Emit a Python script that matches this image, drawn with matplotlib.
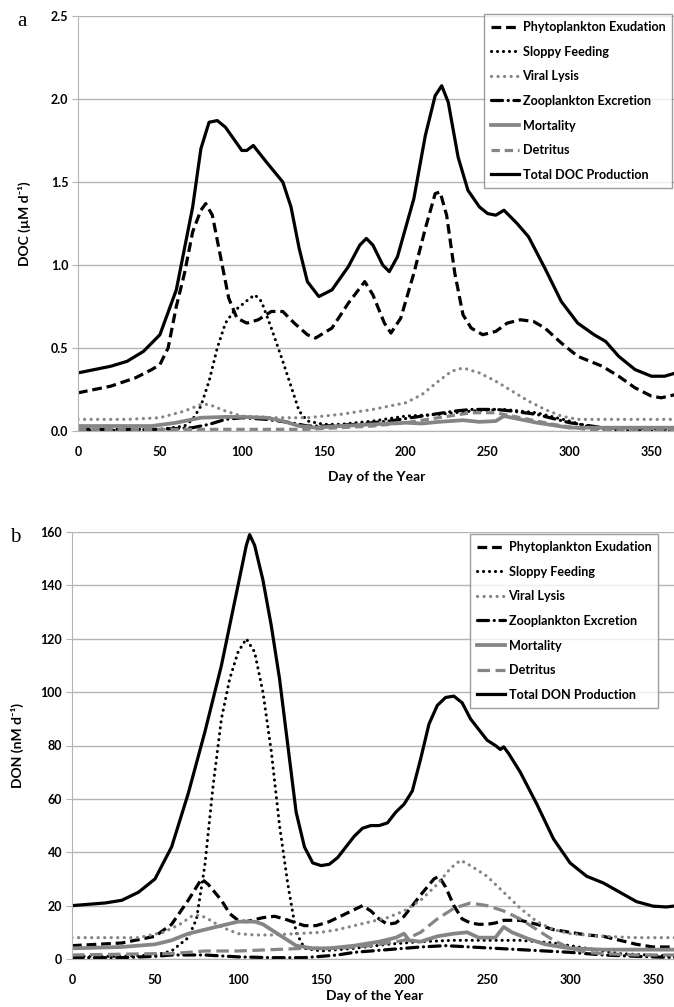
import numpy as np
import matplotlib
matplotlib.use("Agg")
import matplotlib.pyplot as plt

plt.rcParams['font.family'] = ['Lato', 'DejaVu Sans']
plt.rcParams['font.weight'] = 'bold'
plt.rcParams['lines.scale_dashes'] = False

#####################################
# panel a : DOC production (uM d-1)
doc_total_day = [0, 20, 30, 40, 50, 60, 70, 75, 80, 85, 90, 100, 103, 107, 115, 125, 130, 135, 140, 147,
                 155, 165, 172, 176, 180, 186, 190, 195, 205, 212, 218, 222, 226, 232, 238, 245, 250, 255,
                 260, 268, 275, 285, 295, 305, 315, 322, 330, 340, 350, 358, 365]
doc_total = [0.35, 0.39, 0.42, 0.48, 0.58, 0.85, 1.35, 1.70, 1.86, 1.87, 1.83, 1.69, 1.69, 1.72, 1.62, 1.50,
             1.35, 1.10, 0.90, 0.81, 0.85, 0.99, 1.12, 1.16, 1.12, 1.00, 0.96, 1.05, 1.40, 1.78, 2.02, 2.08,
             1.98, 1.65, 1.45, 1.35, 1.31, 1.30, 1.33, 1.25, 1.17, 0.98, 0.78, 0.65, 0.58, 0.54, 0.45, 0.37,
             0.33, 0.33, 0.35]

doc_phyto_day = [0, 20, 35, 45, 50, 55, 60, 65, 70, 75, 78, 82, 87, 92, 97, 103, 110, 118, 125, 132, 140,
                 145, 155, 165, 175, 180, 187, 191, 197, 205, 212, 218, 221, 225, 230, 235, 240, 247, 255,
                 262, 270, 278, 285, 295, 305, 315, 320, 330, 340, 350, 356, 365]
doc_phyto = [0.23, 0.27, 0.32, 0.37, 0.40, 0.50, 0.75, 0.95, 1.20, 1.33, 1.37, 1.30, 1.05, 0.80, 0.68, 0.65,
             0.67, 0.72, 0.72, 0.65, 0.58, 0.56, 0.62, 0.77, 0.90, 0.82, 0.65, 0.59, 0.68, 0.95, 1.22, 1.43,
             1.44, 1.30, 0.95, 0.70, 0.62, 0.58, 0.60, 0.65, 0.67, 0.66, 0.62, 0.53, 0.45, 0.41, 0.39, 0.33,
             0.26, 0.21, 0.20, 0.22]

doc_sloppy_day = [0, 50, 65, 70, 75, 80, 85, 90, 95, 100, 105, 108, 112, 118, 125, 130, 135, 140, 150, 160,
                  170, 180, 200, 220, 240, 260, 280, 300, 310, 320, 340, 365]
doc_sloppy = [0.0, 0.01, 0.03, 0.07, 0.15, 0.30, 0.50, 0.65, 0.72, 0.76, 0.80, 0.82, 0.78, 0.62, 0.42, 0.27,
              0.12, 0.06, 0.04, 0.04, 0.05, 0.06, 0.09, 0.10, 0.12, 0.13, 0.11, 0.06, 0.03, 0.01, 0.0, 0.0]

doc_viral_day = [0, 30, 50, 65, 75, 80, 90, 100, 120, 140, 160, 180, 200, 210, 220, 228, 235, 245, 255, 265,
                 275, 285, 295, 305, 320, 365]
doc_viral = [0.07, 0.07, 0.08, 0.12, 0.16, 0.16, 0.12, 0.09, 0.08, 0.08, 0.10, 0.13, 0.17, 0.22, 0.30, 0.36,
             0.38, 0.35, 0.30, 0.24, 0.18, 0.13, 0.09, 0.07, 0.07, 0.07]

doc_zoo_day = [0, 50, 70, 80, 90, 100, 115, 130, 140, 150, 170, 190, 210, 230, 240, 255, 265, 280, 300, 320, 365]
doc_zoo = [0.01, 0.01, 0.02, 0.04, 0.07, 0.08, 0.07, 0.05, 0.03, 0.03, 0.04, 0.06, 0.09, 0.12, 0.13, 0.13,
           0.12, 0.10, 0.05, 0.02, 0.01]

doc_mort_day = [0, 45, 60, 75, 90, 100, 115, 125, 135, 145, 160, 180, 200, 210, 220, 235, 245, 255, 260, 265,
                280, 300, 320, 365]
doc_mort = [0.03, 0.03, 0.05, 0.08, 0.085, 0.085, 0.08, 0.06, 0.03, 0.02, 0.03, 0.04, 0.05, 0.045, 0.055,
            0.065, 0.055, 0.06, 0.09, 0.08, 0.05, 0.02, 0.02, 0.02]

doc_detr_day = [0, 60, 100, 140, 180, 200, 220, 240, 255, 270, 290, 310, 365]
doc_detr = [0.01, 0.01, 0.01, 0.01, 0.03, 0.05, 0.08, 0.11, 0.11, 0.08, 0.04, 0.01, 0.01]

#####################################
# panel b : DON production (nM d-1)
don_total_day = [0, 20, 30, 40, 50, 60, 70, 80, 90, 100, 105, 107, 110, 115, 120, 125, 130, 135, 140, 145,
                 150, 155, 160, 165, 170, 175, 180, 185, 190, 195, 200, 205, 210, 215, 220, 225, 230, 235,
                 240, 245, 250, 255, 258, 260, 263, 270, 280, 290, 300, 310, 320, 330, 340, 350, 358, 365]
don_total = [20, 21, 22, 25, 30, 42, 62, 85, 110, 140, 155, 159, 155, 142, 125, 105, 80, 55, 42, 36, 35,
             35.5, 38, 42, 46, 49, 50, 50, 51, 55, 58, 63, 75, 88, 95, 98, 98.5, 96, 90, 86, 82, 80, 78.5,
             79.5, 77, 70, 58, 45, 36, 31, 28.5, 25, 21.5, 19.8, 19.5, 20]

don_phyto_day = [0, 30, 50, 60, 70, 75, 78, 82, 90, 95, 100, 105, 115, 122, 128, 135, 140, 147, 155, 165,
                 175, 180, 185, 190, 195, 200, 210, 218, 221, 225, 230, 235, 240, 245, 250, 255, 260, 270,
                 280, 290, 300, 310, 320, 330, 340, 350, 365]
don_phyto = [5, 6, 8.5, 13, 22, 27, 30, 28, 22, 17, 14.5, 14, 15.5, 16, 15, 13.5, 12.5, 12.5, 14, 17, 20,
             18, 15, 13, 13.5, 16, 24, 30, 31, 27, 20, 15, 13.5, 13, 13, 13.5, 14.5, 14.5, 13, 11, 10, 9,
             8.5, 7, 5.5, 4.5, 4.5]

don_sloppy_day = [0, 30, 50, 60, 70, 75, 80, 85, 90, 95, 100, 105, 110, 115, 120, 125, 130, 135, 140, 150,
                  170, 190, 210, 230, 250, 270, 290, 310, 330, 365]
don_sloppy = [1, 1, 1.5, 3, 8, 15, 35, 65, 90, 105, 115, 120, 115, 100, 78, 50, 28, 10, 4, 3, 4, 5.5, 6.5,
              7, 7, 7, 6, 4, 2, 1]

don_viral_day = [0, 40, 55, 65, 72, 77, 82, 90, 100, 110, 120, 135, 150, 160, 170, 180, 190, 200, 210, 220,
                 228, 234, 240, 250, 260, 270, 280, 290, 300, 320, 340, 365]
don_viral = [8, 8, 10, 13, 16, 16.5, 15, 12, 9.5, 9, 9, 9.5, 10, 11, 12.5, 14, 15.5, 18, 22, 28, 34, 37, 35,
             31, 25, 19, 14, 11, 9.5, 8.5, 8, 8]

don_zoo_day = [0, 30, 50, 60, 80, 100, 120, 140, 150, 160, 170, 190, 210, 225, 240, 255, 270, 285, 300, 320,
               340, 365]
don_zoo = [0.5, 0.5, 1, 1.5, 1.5, 0.8, 0.5, 0.5, 1, 1.5, 2.5, 3.5, 4.5, 5, 4.5, 4, 3.5, 3, 2.5, 1.5, 1, 0.5]

don_mort_day = [0, 30, 50, 60, 70, 80, 90, 100, 110, 115, 125, 135, 145, 155, 170, 185, 195, 200, 203, 210,
                220, 230, 238, 245, 255, 260, 265, 275, 285, 300, 320, 365]
don_mort = [4, 4.5, 5.5, 7, 9.5, 11, 12.5, 14, 14, 13, 9, 5, 4, 4, 5, 6.5, 8, 9.5, 7, 6.5, 8.5, 9.5, 10, 8,
            8, 12, 10, 7.5, 5.5, 4, 3.5, 3.5]

don_detr_day = [0, 50, 60, 80, 100, 120, 140, 160, 180, 200, 210, 220, 230, 240, 250, 260, 270, 280, 290,
                300, 310, 320, 340, 365]
don_detr = [1.5, 2, 2, 3, 3, 3.5, 4, 4, 5, 7, 10, 15, 19, 21, 20, 18, 15, 11, 7, 4, 2.5, 2, 1.5, 1.5]

labels = ['Phytoplankton Exudation', 'Sloppy Feeding', 'Viral Lysis', 'Zooplankton Excretion',
          'Mortality', 'Detritus']
#####################################

GREY = '#858585'
GRID = '#b4b4b4'


def draw_panel(ax, series, total_label, detr_dash):
    styles = [
        dict(color='black', lw=2.3, dashes=(7, 3.5)),
        dict(color='black', lw=2.2, dashes=(0.1, 4.2), dash_capstyle='round'),
        dict(color=GREY, lw=2.3, dashes=(0.1, 4.6), dash_capstyle='round'),
        dict(color='black', lw=2.3, dashes=(8, 4, 0.1, 4), dash_capstyle='round'),
        dict(color=GREY, lw=2.7),
        dict(color=GREY, lw=2.3, dashes=detr_dash),
        dict(color='black', lw=2.3),
    ]
    for (x, y), lab, st in zip(series, labels + [total_label], styles):
        ax.plot(x, y, label=lab, solid_joinstyle='round', **st)
    ax.set_xlim(0, 365)
    ax.grid(axis='y', color=GRID, lw=1)
    ax.set_axisbelow(True)
    for s in ['top', 'right']:
        ax.spines[s].set_visible(False)
    for s in ['left', 'bottom']:
        ax.spines[s].set_color(GRID)
    ax.tick_params(axis='y', length=4, color=GRID, labelsize=9, pad=3)
    ax.tick_params(axis='x', length=0, labelsize=9, pad=11)
    ax.set_xticks(np.arange(0, 351, 50))
    ax.set_xlabel('Day of the Year', fontsize=10, fontweight='bold')


def style_legend(ax, top_left):
    leg = ax.legend(loc='upper left', bbox_to_anchor=top_left, bbox_transform=fig.transFigure,
                    fontsize=9.1, handlelength=2.2, handletextpad=0.3, labelspacing=1.0,
                    borderpad=0.55, borderaxespad=0, fancybox=False)
    leg.get_frame().set_edgecolor(GREY)
    leg.get_frame().set_linewidth(1)
    return leg


fig = plt.figure(figsize=(6.74, 10.07), dpi=100)

ax1 = fig.add_axes([78 / 674, 576 / 1007, 598 / 674, 415 / 1007])
draw_panel(ax1, [(doc_phyto_day, doc_phyto), (doc_sloppy_day, doc_sloppy), (doc_viral_day, doc_viral),
                 (doc_zoo_day, doc_zoo), (doc_mort_day, doc_mort), (doc_detr_day, doc_detr),
                 (doc_total_day, doc_total)], 'Total DOC Production', (6, 3.5))
ax1.set_ylim(0, 2.5)
ax1.set_yticks(np.arange(0, 2.51, 0.5))
ax1.yaxis.set_major_formatter(matplotlib.ticker.FormatStrFormatter('%.1f'))
ax1.set_ylabel('DOC (µM d⁻¹)', fontsize=10, fontweight='bold', labelpad=14)
ax1.xaxis.labelpad = 9
style_legend(ax1, (484 / 674, 1 - 14 / 1007))

ax2 = fig.add_axes([72 / 674, 48 / 1007, 606 / 674, 427 / 1007])
draw_panel(ax2, [(don_phyto_day, don_phyto), (don_sloppy_day, don_sloppy), (don_viral_day, don_viral),
                 (don_zoo_day, don_zoo), (don_mort_day, don_mort), (don_detr_day, don_detr),
                 (don_total_day, don_total)], 'Total DON Production', (9, 4))
ax2.set_ylim(0, 160)
ax2.set_yticks(np.arange(0, 161, 20))
ax2.set_ylabel('DON (nM d⁻¹)', fontsize=10, fontweight='bold', labelpad=12)
ax2.xaxis.labelpad = 3
style_legend(ax2, (470 / 674, 1 - 534 / 1007))

fig.text(22 / 674, 1 - 22 / 1007, 'a', family='Liberation Serif', fontsize=15, fontweight='normal',
         va='center', ha='center')
fig.text(15 / 674, 1 - 538 / 1007, 'b', family='Liberation Serif', fontsize=15, fontweight='normal',
         va='center', ha='center')

fig.savefig('out.png', dpi=100)
